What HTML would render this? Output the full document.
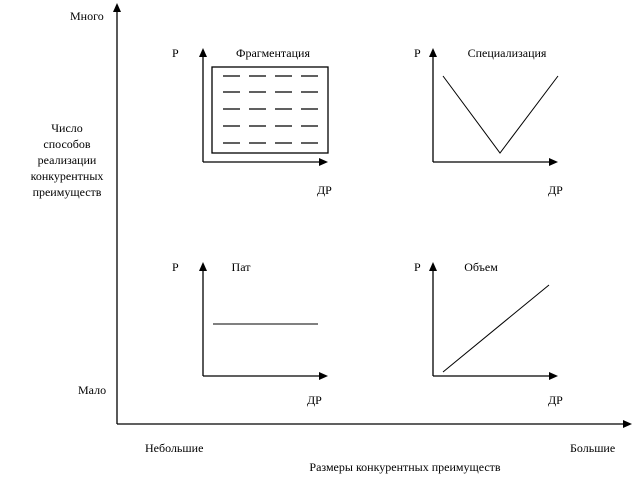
<!DOCTYPE html>
<html><head><meta charset="utf-8"><style>
html,body{margin:0;padding:0;background:#fff;}
svg{display:block;}
text{font-family:"Liberation Serif","DejaVu Serif",serif;font-size:12px;fill:#000;}
</style></head><body>
<svg width="637" height="484" viewBox="0 0 637 484" xmlns="http://www.w3.org/2000/svg">
<g stroke="#000" stroke-width="1.3" fill="none">
<line x1="117" y1="10" x2="117" y2="424"/>
<line x1="117" y1="424" x2="626" y2="424"/>
<line x1="203" y1="54" x2="203" y2="162"/><line x1="203" y1="162" x2="322" y2="162"/>
<line x1="433" y1="54" x2="433" y2="162"/><line x1="433" y1="162" x2="552" y2="162"/>
<line x1="203" y1="268" x2="203" y2="376"/><line x1="203" y1="376" x2="322" y2="376"/>
<line x1="433" y1="268" x2="433" y2="376"/><line x1="433" y1="376" x2="552" y2="376"/>
<rect x="212" y="67" width="116" height="86"/>
</g>
<g stroke="#000" stroke-width="1">
<polyline points="443,76 500,153 558,76" fill="none"/>
<line x1="213" y1="324" x2="318" y2="324"/>
<line x1="443" y1="372" x2="549" y2="285"/>
</g>
<g stroke="#000" stroke-width="1.2">
<line x1="223" y1="76" x2="240" y2="76"/><line x1="249" y1="76" x2="266" y2="76"/><line x1="275" y1="76" x2="292" y2="76"/><line x1="301" y1="76" x2="318" y2="76"/>
<line x1="223" y1="92" x2="240" y2="92"/><line x1="249" y1="92" x2="266" y2="92"/><line x1="275" y1="92" x2="292" y2="92"/><line x1="301" y1="92" x2="318" y2="92"/>
<line x1="223" y1="109" x2="240" y2="109"/><line x1="249" y1="109" x2="266" y2="109"/><line x1="275" y1="109" x2="292" y2="109"/><line x1="301" y1="109" x2="318" y2="109"/>
<line x1="223" y1="126" x2="240" y2="126"/><line x1="249" y1="126" x2="266" y2="126"/><line x1="275" y1="126" x2="292" y2="126"/><line x1="301" y1="126" x2="318" y2="126"/>
<line x1="223" y1="143" x2="240" y2="143"/><line x1="249" y1="143" x2="266" y2="143"/><line x1="275" y1="143" x2="292" y2="143"/><line x1="301" y1="143" x2="318" y2="143"/>
</g>
<g fill="#000">
<polygon points="117,3 113,12 121,12"/>
<polygon points="632,424 623,420 623,428"/>
<polygon points="203,48 199,57 207,57"/><polygon points="328,162 319,158 319,166"/>
<polygon points="433,48 429,57 437,57"/><polygon points="558,162 549,158 549,166"/>
<polygon points="203,262 199,271 207,271"/><polygon points="328,376 319,372 319,380"/>
<polygon points="433,262 429,271 437,271"/><polygon points="558,376 549,372 549,380"/>
</g>
<text x="70" y="20">Много</text>
<text x="78" y="394">Мало</text>
<g text-anchor="middle">
<text x="67" y="132">Число</text>
<text x="67" y="148">способов</text>
<text x="67" y="164">реализации</text>
<text x="67" y="180">конкурентных</text>
<text x="67" y="196">преимуществ</text>
<text x="273" y="57">Фрагментация</text>
<text x="507" y="57">Специализация</text>
<text x="241" y="271">Пат</text>
<text x="481" y="271">Объем</text>
<text x="405" y="471">Размеры конкурентных преимуществ</text>
</g>
<text x="172" y="57">Р</text><text x="414" y="57">Р</text>
<text x="172" y="271">Р</text><text x="414" y="271">Р</text>
<text x="317" y="194">ДР</text><text x="548" y="194">ДР</text>
<text x="307" y="404">ДР</text><text x="548" y="404">ДР</text>
<text x="145" y="452">Небольшие</text>
<text x="570" y="452">Большие</text>
</svg>
</body></html>
